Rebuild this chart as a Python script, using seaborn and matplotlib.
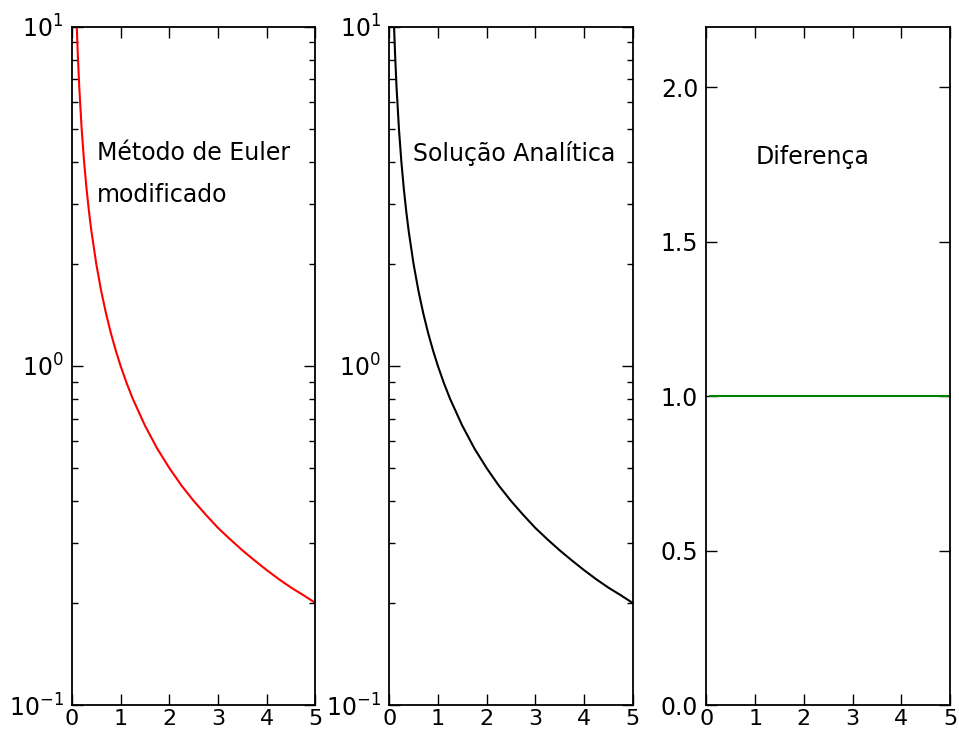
import numpy as np
import pandas as pd
import matplotlib
matplotlib.use("Agg")
import matplotlib.pyplot as plt
import seaborn as sns

sns.set_style("ticks")
plt.rcParams["font.family"] = ["DejaVu Sans"]
plt.rcParams.update({
    "text.color": "black",
    "xtick.direction": "in", "ytick.direction": "in",
    "xtick.top": True, "ytick.right": True,
    "xtick.major.size": 8, "ytick.major.size": 8,
    "xtick.minor.size": 4, "ytick.minor.size": 4,
    "xtick.major.width": 1.0, "ytick.major.width": 1.0,
    "xtick.minor.width": 1.0, "ytick.minor.width": 1.0,
    "axes.edgecolor": "black", "axes.linewidth": 1.3,
    "xtick.color": "black", "ytick.color": "black",
    "xtick.labelcolor": "black", "ytick.labelcolor": "black",
    "xtick.labelsize": 16, "ytick.labelsize": 17,
    "xtick.major.pad": 3, "ytick.major.pad": 6,
})

# values
x = [0.08, 0.1, 0.12, 0.15, 0.2, 0.25, 0.3, 0.35, 0.4, 0.5, 0.6, 0.7, 0.8, 0.9,
     1.0, 1.125, 1.25, 1.5, 1.75, 2.0, 2.25, 2.5, 2.75, 3.0, 3.25, 3.5,
     3.75, 4.0, 4.25, 4.5, 4.75, 5.0]
euler = [12.5, 10.0, 8.33, 6.67, 5.0, 4.0, 3.333, 2.857, 2.5, 2.0, 1.667,
         1.429, 1.25, 1.111, 1.0, 0.889, 0.8, 0.667, 0.571, 0.5, 0.444, 0.4,
         0.364, 0.333, 0.308, 0.286, 0.267, 0.25, 0.235, 0.222, 0.211, 0.2]
analitica = [12.5, 10.0, 8.33, 6.67, 5.0, 4.0, 3.333, 2.857, 2.5, 2.0, 1.667,
             1.429, 1.25, 1.111, 1.0, 0.889, 0.8, 0.667, 0.571, 0.5, 0.444, 0.4,
             0.364, 0.333, 0.308, 0.286, 0.267, 0.25, 0.235, 0.222, 0.211, 0.2]
diferenca = [1.0] * len(x)

fig, axes = plt.subplots(1, 3, figsize=(9.59, 7.35), dpi=100)
fig.subplots_adjust(left=0.075, right=0.9906, top=0.9633, bottom=0.0408, wspace=0.303)

ax1, ax2, ax3 = axes

sns.lineplot(x=x, y=euler, ax=ax1, color="red", linewidth=1.5)
sns.lineplot(x=x, y=analitica, ax=ax2, color="black", linewidth=1.5)
sns.lineplot(x=x, y=diferenca, ax=ax3, color="green", linewidth=1.5)

for ax in (ax1, ax2):
    ax.set_yscale("log")
    ax.set_ylim(0.1, 10)

ax3.set_ylim(0, 2.195)
ax3.set_yticks([0.0, 0.5, 1.0, 1.5, 2.0])
ax3.set_yticklabels(["0.0", "0.5", "1.0", "1.5", "2.0"])

for ax in axes:
    ax.set_xlim(0, 5)
    ax.set_xticks([0, 1, 2, 3, 4, 5])
    for s in ax.spines.values():
        s.set_visible(True)

fs = 17
ax1.text(0.102, 0.814, "Método de Euler", transform=ax1.transAxes, fontsize=fs, va="center")
ax1.text(0.102, 0.752, "modificado", transform=ax1.transAxes, fontsize=fs, va="center")
ax2.text(0.099, 0.814, "Solução Analítica", transform=ax2.transAxes, fontsize=fs, va="center")
ax3.text(0.20, 0.808, "Diferença", transform=ax3.transAxes, fontsize=fs, va="center")

fig.savefig("out.png", dpi=100, facecolor="white")
